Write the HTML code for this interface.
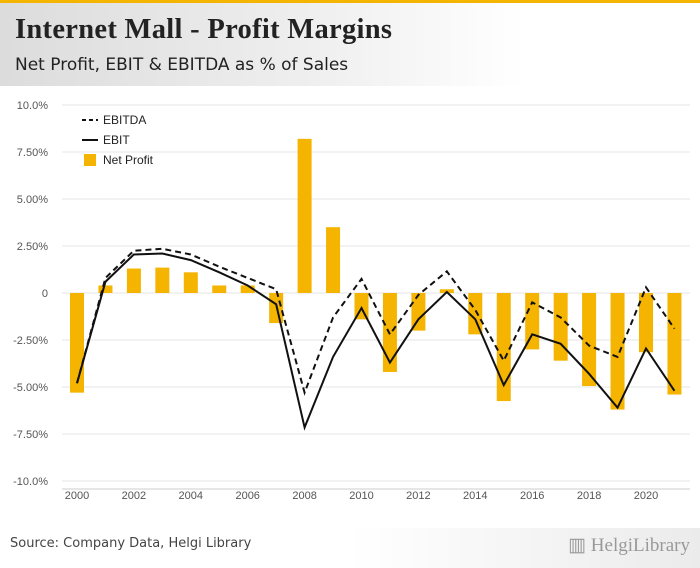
<!DOCTYPE html>
<html><head><meta charset="utf-8"><style>
body{margin:0;width:700px;height:568px;overflow:hidden;background:#fff;font-family:"Liberation Sans",sans-serif;position:relative}
#hdr{position:absolute;left:0;top:0;width:700px;height:86px;background:linear-gradient(90deg,#dcdcdc 0%,#efefef 45%,#fff 75%);border-top:3px solid #f5b400;box-sizing:border-box}
#title{position:absolute;left:15px;top:11px;font-family:"Liberation Serif",serif;font-weight:bold;font-size:28.5px;letter-spacing:0.3px;color:#222}
#sub{position:absolute;left:15px;top:52px;font-family:"DejaVu Sans",sans-serif;font-size:17px;color:#222}
#foot{position:absolute;left:0;top:528px;width:700px;height:40px;background:linear-gradient(90deg,#fff 0%,#fff 50%,#ebebeb 100%)}
#src{position:absolute;left:10px;top:8px;font-family:"DejaVu Sans",sans-serif;font-size:13px;color:#444}
#logo{position:absolute;right:10px;top:6px;font-family:"Liberation Serif",serif;font-size:19px;color:#999}
</style></head><body>
<div id="hdr">
<div id="title">Internet Mall - Profit Margins</div>
<div id="sub">Net Profit, EBIT &amp; EBITDA as % of Sales</div>
</div>
<svg id="chart" width="700" height="568" style="position:absolute;left:0;top:0"></svg>
<div id="foot">
<div id="src">Source: Company Data, Helgi Library</div>
<div id="logo">▥ HelgiLibrary</div>
</div>
<script>
const years=[2000,2001,2002,2003,2004,2005,2006,2007,2008,2009,2010,2011,2012,2013,2014,2015,2016,2017,2018,2019,2020,2021];
const netProfit=[-5.3,0.4,1.3,1.35,1.1,0.4,0.4,-1.6,8.2,3.5,-1.4,-4.2,-2.0,0.2,-2.2,-5.75,-3.0,-3.6,-4.95,-6.2,-3.15,-5.4];
const ebit=[-4.8,0.6,2.05,2.1,1.75,1.1,0.4,-0.6,-7.15,-3.4,-0.8,-3.7,-1.4,0.05,-1.4,-4.9,-2.2,-2.7,-4.3,-6.1,-2.95,-5.2];
const ebitda=[-4.8,0.8,2.25,2.35,2.05,1.4,0.8,0.2,-5.3,-1.3,0.75,-2.2,-0.1,1.15,-0.9,-3.6,-0.5,-1.3,-2.8,-3.4,0.3,-1.9];
const yTicks=[10,7.5,5,2.5,0,-2.5,-5,-7.5,-10];
const yLabels=["10.0%","7.50%","5.00%","2.50%","0","-2.50%","-5.00%","-7.50%","-10.0%"];
const xLabels=[2000,2002,2004,2006,2008,2010,2012,2014,2016,2018,2020];
const svg=document.getElementById('chart');const NS='http://www.w3.org/2000/svg';
const X=y=>77+(y-2000)*28.45;const Y=v=>293-v*18.8;
function mk(t,a){const e=document.createElementNS(NS,t);for(const k in a)e.setAttribute(k,a[k]);svg.appendChild(e);return e;}
yTicks.forEach((t,i)=>{const l=mk('line',{x1:62,x2:690,y1:Y(t),y2:Y(t),stroke:'#e6e6e6'});


const tx=mk('text',{x:48,y:Y(t)+4,'text-anchor':'end','font-size':11,fill:'#555','font-family':'Liberation Sans'});tx.textContent=yLabels[i];

});
const ax=mk('line',{x1:62,x2:690,y1:489,y2:489,stroke:'#ccc'});


xLabels.forEach(y=>{const tx=mk('text',{x:X(y),y:499,'text-anchor':'middle','font-size':11,fill:'#555','font-family':'Liberation Sans'});tx.textContent=y;

});
years.forEach((y,i)=>{const v=netProfit[i];const r=mk('rect',{x:X(y)-7,width:14,y:Math.min(Y(v),Y(0)),height:Math.abs(Y(v)-Y(0)),fill:'#f5b400'});

});
const pts=a=>years.map((y,i)=>X(y)+','+Y(a[i])).join(' ');
const l1=mk('polyline',{points:pts(ebitda),fill:'none',stroke:'#111','stroke-width':2,'stroke-dasharray':'6,4'});


const l2=mk('polyline',{points:pts(ebit),fill:'none',stroke:'#111','stroke-width':2});


[['EBITDA','dash',120],['EBIT','line',140],['Net Profit','bar',160]].forEach(([n,t,y])=>{
const g=document.createElementNS(NS,'g');svg.appendChild(g);


let s;if(t==='bar'){s=document.createElementNS(NS,'rect');s.setAttribute('x',84);s.setAttribute('y',y-6);s.setAttribute('width',12);s.setAttribute('height',12);s.setAttribute('fill','#f5b400');}
else{s=document.createElementNS(NS,'line');s.setAttribute('x1',82);s.setAttribute('x2',98);s.setAttribute('y1',y);s.setAttribute('y2',y);s.setAttribute('stroke','#111');s.setAttribute('stroke-width',2);if(t==='dash')s.setAttribute('stroke-dasharray','4,3');}
g.appendChild(s);const tx=document.createElementNS(NS,'text');tx.setAttribute('x',103);tx.setAttribute('y',y+4);tx.setAttribute('font-size',12);tx.setAttribute('fill','#222');tx.setAttribute('font-family','Liberation Sans');tx.textContent=n;g.appendChild(tx);});
</script>
</body></html>
